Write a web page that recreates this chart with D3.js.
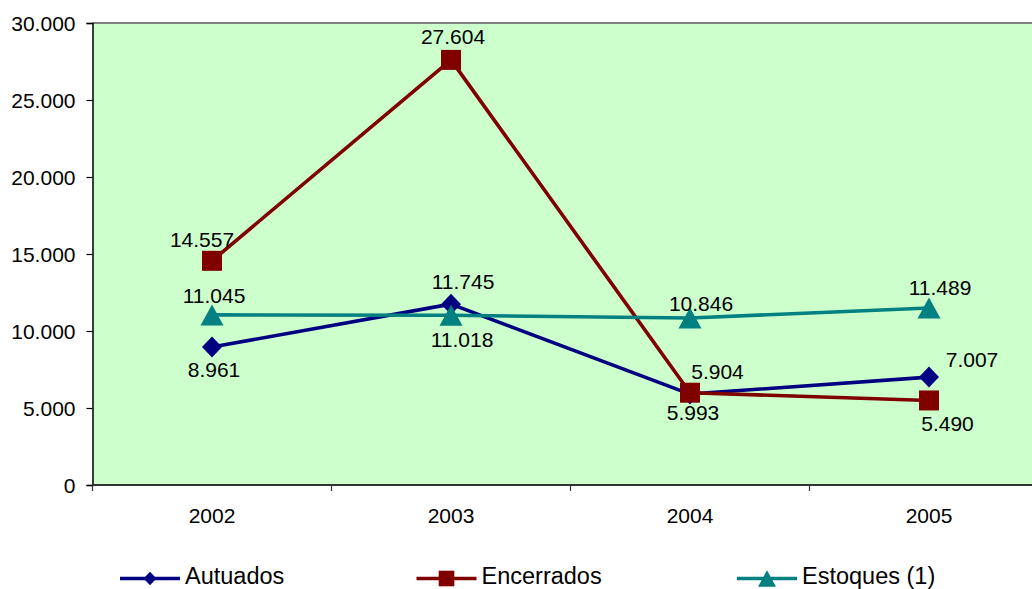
<!DOCTYPE html>
<html>
<head>
<meta charset="utf-8">
<script src="https://cdn.jsdelivr.net/npm/d3@7"></script>
<style>
  body { margin: 0; background: #fff; }
  svg { display: block; font-family: "Liberation Sans", Arial, sans-serif; }
</style>
</head>
<body>
<svg id="chart" width="1032" height="589"></svg>
<script>
// Data
const years = ["2002", "2003", "2004", "2005"];
const autuados = [8961, 11745, 5904, 7007];
const encerrados = [14557, 27604, 5993, 5490];
const estoques = [11045, 11018, 10846, 11489];
const yTicks = [0, 5000, 10000, 15000, 20000, 25000, 30000];
const seriesNames = ["Autuados", "Encerrados", "Estoques (1)"];

// Layout and styling
const plot = { left: 92.5, right: 1048.5, top: 23, bottom: 485 };
const colors = ["#000080", "#800000", "#008080"];
const shapes = ["diamond", "square", "triangle"];
// value label offsets (text centre relative to the point)
const labelOffsets = [
  [[2, 22.5], [12, -23], [27.5, -23], [43, -17.6]],
  [[-10, -21.6], [2, -23], [3, 20], [18.5, 23.3]],
  [[2, -19], [11, 24], [11, -14], [11, -20.5]]
];
const legendX = [120, 416.5, 737];

const svg = d3.select("#chart");
const loc = d3.formatLocale({ decimal: ",", thousands: ".", grouping: [3], currency: ["", ""] });
const fmt = loc.format(",d");

const x = d3.scaleBand().domain(years).range([plot.left, plot.right]).padding(0);
const y = d3.scaleLinear().domain([0, 30000]).range([plot.bottom, plot.top]);
const cx = d => x(d) + x.bandwidth() / 2;

// Plot area
svg.append("rect")
  .attr("x", plot.left).attr("y", plot.top)
  .attr("width", plot.right - plot.left).attr("height", plot.bottom - plot.top)
  .attr("fill", "#CCFFCC");
svg.append("line")
  .attr("x1", plot.left).attr("x2", plot.right)
  .attr("y1", plot.top).attr("y2", plot.top)
  .attr("stroke", "#808080").attr("stroke-width", 2);

// Y axis
const yAxis = d3.axisLeft(y).tickValues(yTicks).tickFormat(fmt).tickSize(6).tickPadding(11);
const gy = svg.append("g").attr("transform", `translate(${plot.left},0)`).call(yAxis);
gy.select(".domain").attr("stroke", "#000").attr("stroke-width", 1.5);
gy.selectAll(".tick line").attr("stroke", "#000").attr("stroke-width", 1.2);
gy.selectAll(".tick text")
  .attr("font-size", 21).attr("fill", "#000")
  .attr("font-family", "Liberation Sans, Arial, sans-serif")
  .attr("dy", "0.35em");

// X axis (ticks between categories)
const gx = svg.append("g");
gx.append("line")
  .attr("x1", plot.left).attr("x2", plot.right)
  .attr("y1", plot.bottom).attr("y2", plot.bottom)
  .attr("stroke", "#333").attr("stroke-width", 2);
const bounds = years.map(d => x(d)).concat([x(years[years.length - 1]) + x.bandwidth()]);
gx.selectAll("line.tk").data(bounds).enter().append("line")
  .attr("class", "tk")
  .attr("x1", d => d).attr("x2", d => d)
  .attr("y1", plot.bottom).attr("y2", plot.bottom + 6)
  .attr("stroke", "#333").attr("stroke-width", 1.2);
gx.selectAll("text").data(years).enter().append("text")
  .attr("x", d => cx(d)).attr("y", 523.3)
  .attr("text-anchor", "middle").attr("font-size", 21).attr("fill", "#000")
  .text(d => d);

// Marker shapes
function markerPath(shape, s) {
  if (shape === "diamond") {
    const w = 10 * s, h = 10.5 * s;
    return `M0,${-h}L${w},0L0,${h}L${-w},0Z`;
  }
  if (shape === "square") {
    const a = 10 * s;
    return `M${-a},${-a}H${a}V${a}H${-a}Z`;
  }
  const w = 11.5 * s, h = 10.5 * s;
  return `M0,${-h}L${w},${h}L${-w},${h}Z`;
}

const allSeries = [autuados, encerrados, estoques];
const line = d3.line().x((d, i) => cx(years[i])).y(d => y(d));

allSeries.forEach((vals, si) => {
  svg.append("g").append("path").datum(vals)
    .attr("d", line)
    .attr("fill", "none").attr("stroke", colors[si])
    .attr("stroke-width", 3.6).attr("stroke-linejoin", "round");
});

allSeries.forEach((vals, si) => {
  svg.append("g").selectAll("path.m").data(vals).enter().append("path")
    .attr("class", "m")
    .attr("transform", (d, i) => `translate(${cx(years[i])},${y(d)})`)
    .attr("d", markerPath(shapes[si], 1))
    .attr("fill", colors[si]);
});

allSeries.forEach((vals, si) => {
  svg.append("g").selectAll("text").data(vals).enter().append("text")
    .attr("x", (d, i) => cx(years[i]) + labelOffsets[si][i][0])
    .attr("y", (d, i) => y(d) + labelOffsets[si][i][1] + 7.5)
    .attr("text-anchor", "middle").attr("font-size", 21).attr("fill", "#000")
    .text(d => fmt(d));
});

// Legend
const legend = svg.append("g");
seriesNames.forEach((name, si) => {
  const lx = legendX[si], ly = 578.5;
  legend.append("line")
    .attr("x1", lx).attr("x2", lx + 60).attr("y1", ly).attr("y2", ly)
    .attr("stroke", colors[si]).attr("stroke-width", 3.6);
  legend.append("path")
    .attr("transform", `translate(${lx + 30},${ly})`)
    .attr("d", markerPath(shapes[si], si === 0 ? 0.65 : 0.78))
    .attr("fill", colors[si]);
  legend.append("text")
    .attr("x", lx + 65).attr("y", 583.5)
    .attr("font-size", 23.5).attr("fill", "#000")
    .text(name);
});
</script>
</body>
</html>
